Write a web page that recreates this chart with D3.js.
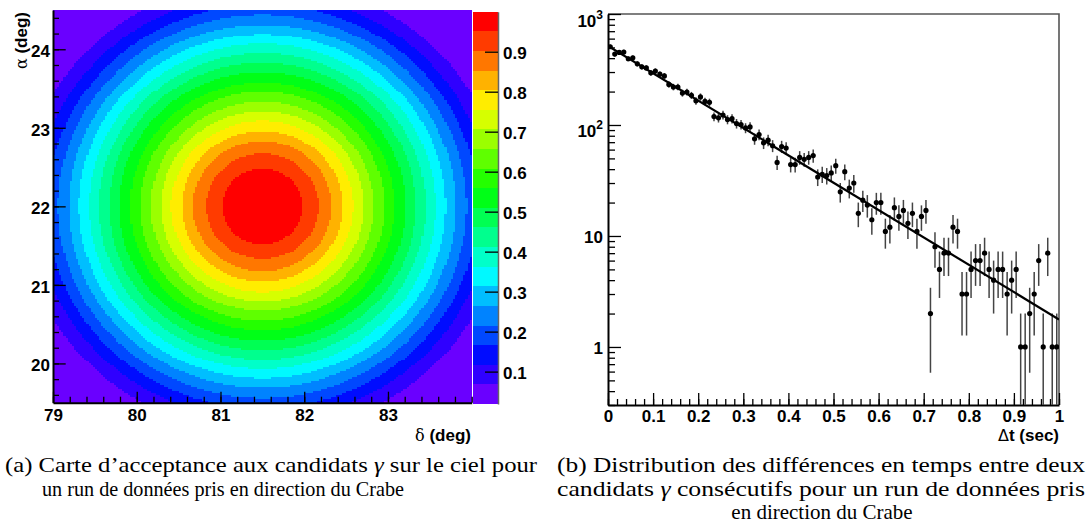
<!DOCTYPE html>
<html>
<head>
<meta charset="utf-8">
<script src="https://cdn.jsdelivr.net/npm/d3@7"></script>
<style>
  body { margin: 0; background: #fff; }
  svg { display: block; }
  .lab { font-family: 'Liberation Sans Narrow', 'Liberation Sans', Arial, sans-serif; font-weight: bold; font-size: 17px; fill: #000; }
  .cap { font-family: 'Liberation Serif', 'DejaVu Serif', serif; font-size: 21px; fill: #000; }
</style>
</head>
<body>
<svg id="fig" width="1089" height="527"></svg>
<script>
// ---------------- Panel (a): acceptance map ----------------
const declDomain = [79, 84];
const raDomain = [19.5, 24.5];
const declTicks = [79, 80, 81, 82, 83];
const raTicks = [20, 21, 22, 23, 24];
const mapCentre = [81.5, 22.0];               // (delta, alpha) of the peak, deg
// angular radius (deg) at which the acceptance drops below each contour level, peak outward
const ringRadii = [0.48, 0.67, 0.83, 0.96, 1.09, 1.21, 1.33, 1.46, 1.58, 1.71,
                   1.83, 1.95, 2.07, 2.19, 2.31, 2.44, 2.57, 2.71, 2.88];
const zRange = [0.019, 1.0];
const zTicks = [0.1, 0.2, 0.3, 0.4, 0.5, 0.6, 0.7, 0.8, 0.9];
// contour colours, lowest band first
const bandColours = ["#6a00ff", "#2f00ff", "#000cff", "#0048ff", "#0083ff",
                     "#00beff", "#00f9ff", "#00ffc9", "#00ff8e", "#00ff53",
                     "#00ff17", "#24ff00", "#5fff00", "#9bff00", "#d6ff00",
                     "#ffed00", "#ffb200", "#ff7700", "#ff3b00", "#ff0000"];
const mapBins = 200;

// ---------------- Panel (b): time differences ----------------
const dtBinWidth = 0.01;
const dtCounts = [
  507, 435, 451, 454, 395, 403, 356, 334, 327, 295,
  306, 287, 277, 232, 220, 220, 194, 198, 185, 165,
  179, 163, 160, 119, 116, 123, 112, 114, 103, 101,
   94,  96,  75,  82,  69,  73,  65,  46,  64,  62,
   44,  44,  51,  49,  51,  53,  34,  36,  35,  37,
   43,  25,  38,  27,  30,  16,  21,  19,  14,  20,
   20,  11,  12,  18,  15,  17,  13,  16,  11,  15,
   17,   2,   8,   5,   7,   7,  12,  11,   3,   3,
    5,   6,   6,   7,   5,   4,   5,   5,   3,   4,
    5,   1,   1,   2,   3,   6,   1,   7,   1,   1];
const fitEnds = [{t: 0, n: 515}, {t: 1, n: 1.77}];   // exponential fit, end points
const dtTicks = [0, 0.1, 0.2, 0.3, 0.4, 0.5, 0.6, 0.7, 0.8, 0.9, 1];
const countTicks = [1, 10, 100, 1000];
const countLabels = [["1", null], ["10", null], ["10", "2"], ["10", "3"]];

const svg = d3.select("#fig");

function tidy(g) {
  g.attr("font-family", null).attr("font-size", null);
  g.selectAll("text").attr("class", "lab");
  g.selectAll(".tick line").attr("stroke", "#000").attr("stroke-width", 1.3);
  return g;
}

// ===== Panel (a) =====
const xA = d3.scaleLinear(declDomain, [53, 471.7]);
const yA = d3.scaleLinear(raDomain, [402.7, 10]);

function bandAt(r) {
  const k = ringRadii.findIndex(R => r < R);
  return k === -1 ? 0 : ringRadii.length - k;
}

const heat = svg.append("g").attr("shape-rendering", "crispEdges");
const dDec = (declDomain[1] - declDomain[0]) / mapBins;
const dRa = (raDomain[1] - raDomain[0]) / mapBins;
for (let j = 0; j < mapBins; j++) {
  const ra0 = raDomain[0] + j * dRa, ra1 = ra0 + dRa;
  const raC = (ra0 + ra1) / 2;
  let runStart = 0, runBand = null;
  const runs = [];
  for (let i = 0; i <= mapBins; i++) {
    let b = null;
    if (i < mapBins) {
      const dC = declDomain[0] + (i + 0.5) * dDec;
      b = bandAt(Math.hypot(dC - mapCentre[0], raC - mapCentre[1]));
    }
    if (b !== runBand) {
      if (runBand !== null) runs.push({i0: runStart, i1: i, band: runBand});
      runStart = i; runBand = b;
    }
  }
  heat.selectAll(null).data(runs).enter().append("rect")
    .attr("x", d => xA(declDomain[0] + d.i0 * dDec))
    .attr("width", d => xA(declDomain[0] + d.i1 * dDec) - xA(declDomain[0] + d.i0 * dDec))
    .attr("y", yA(ra1))
    .attr("height", yA(ra0) - yA(ra1))
    .attr("fill", d => bandColours[d.band]);
}

// colour scale bar
const zS = d3.scaleLinear(zRange, [404, 11.7]);
const nBands = bandColours.length;
const zStep = (zRange[1] - zRange[0]) / nBands;
svg.append("g").attr("shape-rendering", "crispEdges")
  .selectAll("rect").data(bandColours).enter().append("rect")
  .attr("x", 473).attr("width", 25)
  .attr("y", (c, i) => zS(zRange[0] + (i + 1) * zStep))
  .attr("height", (c, i) => zS(zRange[0] + i * zStep) - zS(zRange[0] + (i + 1) * zStep))
  .attr("fill", c => c);
const zAx = svg.append("g").attr("transform", "translate(498,0)")
  .call(d3.axisRight(zS).tickValues(zTicks).tickSizeInner(-13).tickSizeOuter(0).tickPadding(5)
        .tickFormat(d3.format(".1f")));
tidy(zAx);
zAx.select(".domain").attr("stroke", "#666").attr("stroke-width", 1.5);
zAx.selectAll("text").attr("x", 5).attr("dy", "0.38em");

// axes of the map
const xAmin = svg.append("g").attr("transform", "translate(0,402.7)")
  .call(d3.axisBottom(xA).tickValues(d3.range(79, 84.001, 0.2)).tickSizeInner(-6).tickSizeOuter(0).tickFormat(""));
tidy(xAmin).select(".domain").remove();
const xAmaj = svg.append("g").attr("transform", "translate(0,402.7)")
  .call(d3.axisBottom(xA).tickValues(declTicks).tickSizeInner(-11).tickSizeOuter(0).tickPadding(6)
        .tickFormat(d3.format("d")));
tidy(xAmaj).select(".domain").attr("stroke", "#000").attr("stroke-width", 2);

const yAmin = svg.append("g").attr("transform", "translate(53,0)")
  .call(d3.axisLeft(yA).tickValues(d3.range(19.6, 24.5, 0.2)).tickSizeInner(-6).tickSizeOuter(0).tickFormat(""));
tidy(yAmin).select(".domain").remove();
const yAmaj = svg.append("g").attr("transform", "translate(53,0)")
  .call(d3.axisLeft(yA).tickValues(raTicks).tickSizeInner(-12.7).tickSizeOuter(0).tickPadding(3)
        .tickFormat(d3.format("d")));
tidy(yAmaj).select(".domain").attr("stroke", "#000").attr("stroke-width", 2);
yAmaj.selectAll("text").attr("dy", "0.44em");

svg.append("text").attr("class", "lab").attr("text-anchor", "end")
  .attr("x", 471).attr("y", 441)
  .html('<tspan font-weight="normal" font-family="DejaVu Serif, serif" font-size="16">δ</tspan> (deg)');
svg.append("text").attr("class", "lab").attr("text-anchor", "end")
  .attr("transform", "translate(27,12) rotate(-90)")
  .html('<tspan font-weight="normal" font-family="DejaVu Serif, serif" font-size="16">α</tspan> (deg)');

// ===== Panel (b) =====
const xB = d3.scaleLinear([0, 1], [608, 1059]);
const yB = d3.scaleLog([0.3, 1000], [405, 14]);
const pts = dtCounts.map((n, i) => ({t: (i + 0.5) * dtBinWidth, n}));

// frame
svg.append("path")
  .attr("d", `M${xB(0)},${yB(1000)}H${xB(1)}V${yB(0.3)}`)
  .attr("fill", "none").attr("stroke", "#555").attr("stroke-width", 1.6);

const minorCounts = [];
[0.1, 1, 10, 100].forEach(dec => {
  for (let m = 2; m <= 9; m++) {
    const v = m * dec;
    if (v >= 0.3 && v < 1000) minorCounts.push(v);
  }
});
const yBmin = svg.append("g").attr("transform", "translate(608,0)")
  .call(d3.axisLeft(yB).tickValues(minorCounts).tickSizeInner(-7).tickSizeOuter(0).tickFormat(""));
tidy(yBmin).select(".domain").remove();
const yBmaj = svg.append("g").attr("transform", "translate(608,0)")
  .call(d3.axisLeft(yB).tickValues(countTicks).tickSizeInner(-13).tickSizeOuter(0).tickPadding(5)
        .tickFormat(""));
tidy(yBmaj).select(".domain").attr("stroke", "#000").attr("stroke-width", 2);
yBmaj.selectAll(".tick").each(function (d, i) {
  const [base, sup] = countLabels[i];
  const t = d3.select(this).append("text").attr("class", "lab")
    .attr("text-anchor", "end").attr("x", -5).attr("y", sup ? 12 : 7);
  t.append("tspan").text(base);
  if (sup) t.append("tspan").attr("font-size", 12).attr("dy", -8).text(sup);
});

const xBmin = svg.append("g").attr("transform", "translate(0,405)")
  .call(d3.axisBottom(xB).tickValues(d3.range(0, 1.001, 0.02)).tickSizeInner(-6).tickSizeOuter(0).tickFormat(""));
tidy(xBmin).select(".domain").remove();
const xBmaj = svg.append("g").attr("transform", "translate(0,405)")
  .call(d3.axisBottom(xB).tickValues(dtTicks).tickSizeInner(-12).tickSizeOuter(0).tickPadding(5)
        .tickFormat(d => d === 0 || d === 1 ? String(d) : d3.format(".1f")(d)));
tidy(xBmaj).select(".domain").attr("stroke", "#000").attr("stroke-width", 2);

svg.append("defs").append("clipPath").attr("id", "plotB")
  .append("rect").attr("x", xB(0)).attr("y", yB(1000)).attr("width", xB(1) - xB(0)).attr("height", yB(0.3) - yB(1000));

const dataG = svg.append("g").attr("clip-path", "url(#plotB)");
// Poisson error bars
dataG.selectAll("line.err").data(pts).enter().append("line").attr("class", "err")
  .attr("x1", d => xB(d.t)).attr("x2", d => xB(d.t))
  .attr("y1", d => yB(d.n + Math.sqrt(d.n)))
  .attr("y2", d => d.n - Math.sqrt(d.n) > 0 ? yB(d.n - Math.sqrt(d.n)) : yB(0.3) + 2)
  .attr("stroke", "#444").attr("stroke-width", 1.5);
// fit
dataG.append("path").datum(fitEnds)
  .attr("d", d3.line().x(d => xB(d.t)).y(d => yB(d.n)))
  .attr("fill", "none").attr("stroke", "#000").attr("stroke-width", 2.2);
// markers
dataG.selectAll("circle").data(pts).enter().append("circle")
  .attr("cx", d => xB(d.t)).attr("cy", d => yB(d.n)).attr("r", 2.6).attr("fill", "#000");

svg.append("text").attr("class", "lab").attr("text-anchor", "end")
  .attr("x", 1059).attr("y", 441)
  .html('<tspan font-weight="normal" font-family="DejaVu Sans, sans-serif" font-size="16">Δ</tspan>t (sec)');

// ===== captions =====
// justified lines are stretched to the column width; the last lines are set shorter
const captionLines = [
  {x: 5, y: 472, w: 532, anchor: "start", parts: [["(a) Carte d’acceptance aux candidats ", 0], ["γ", 1], [" sur le ciel pour", 0]]},
  {x: 42, y: 496, w: 362, anchor: "start", parts: [["un run de données pris en direction du Crabe", 0]]},
  {x: 557, y: 472, w: 528, anchor: "start", parts: [["(b) Distribution des différences en temps entre deux", 0]]},
  {x: 557, y: 496, w: 528, anchor: "start", parts: [["candidats ", 0], ["γ", 1], [" consécutifs pour un run de données pris", 0]]},
  {x: 822, y: 519, w: null, anchor: "middle", parts: [["en direction du Crabe", 0]]}
];
captionLines.forEach(line => {
  const t = svg.append("text").attr("class", "cap")
    .attr("x", line.x).attr("y", line.y).attr("text-anchor", line.anchor);
  if (line.w) t.attr("textLength", line.w).attr("lengthAdjust", "spacingAndGlyphs");
  line.parts.forEach(([s, it]) => {
    const sp = t.append("tspan").text(s);
    if (it) sp.attr("font-style", "italic");
  });
});
</script>
</body>
</html>
